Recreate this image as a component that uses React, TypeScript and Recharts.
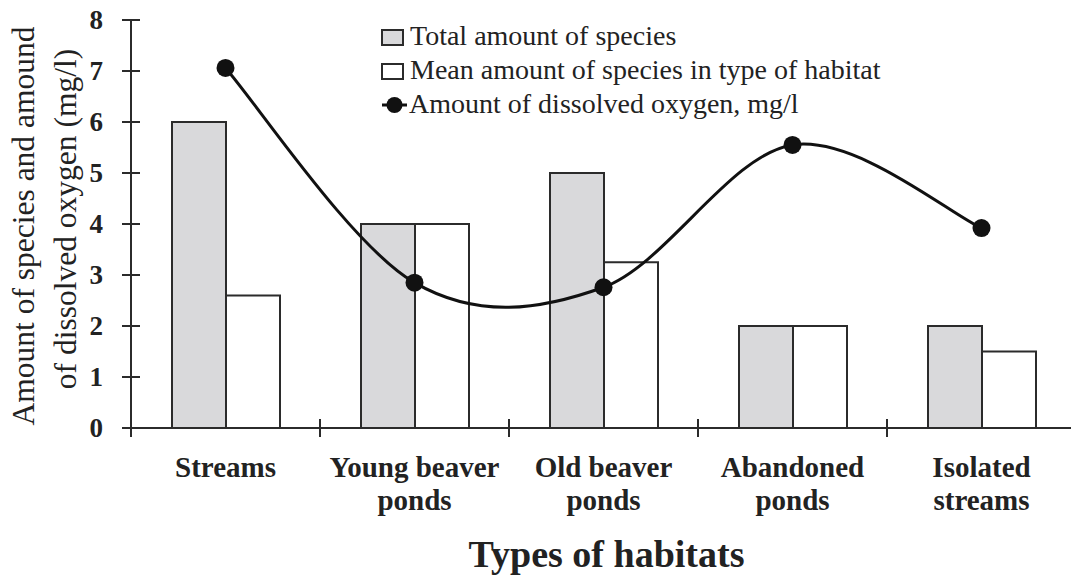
import { ComposedChart, Bar, Line, XAxis, YAxis } from "recharts";

const habitats = ["Streams", "Young beaver ponds", "Old beaver ponds", "Abandoned ponds", "Isolated streams"];
const habitatLines = [["Streams"], ["Young beaver", "ponds"], ["Old beaver", "ponds"], ["Abandoned", "ponds"], ["Isolated", "streams"]];
const totalSpecies = [6, 4, 5, 2, 2];
const meanSpecies = [2.6, 4, 3.25, 2, 1.5];
const dissolvedOxygen = [7.06, 2.85, 2.76, 5.55, 3.92];
const yTicks = [0, 1, 2, 3, 4, 5, 6, 7, 8];

const data = habitats.map((habitat, i) => ({
  habitat,
  total: totalSpecies[i],
  mean: meanSpecies[i],
  oxygen: dissolvedOxygen[i],
}));

const FONT = "'Liberation Serif', 'Times New Roman', serif";
const INK = "#2b2b2b";

// Catmull-Rom style smoothing, close to the spreadsheet "smoothed line"
const smoothCurve = (context: any) => {
  let pts: number[][] = [];
  return {
    areaStart() {},
    areaEnd() {},
    lineStart() {
      pts = [];
    },
    point(x: number, y: number) {
      pts.push([+x, +y]);
    },
    lineEnd() {
      if (!pts.length) return;
      context.moveTo(pts[0][0], pts[0][1]);
      for (let i = 0; i < pts.length - 1; i++) {
        const p0 = pts[i - 1] ?? pts[i];
        const p1 = pts[i];
        const p2 = pts[i + 1];
        const p3 = pts[i + 2] ?? p2;
        context.bezierCurveTo(
          p1[0] + (p2[0] - p0[0]) / 6,
          p1[1] + (p2[1] - p0[1]) / 6,
          p2[0] - (p3[0] - p1[0]) / 6,
          p2[1] - (p3[1] - p1[1]) / 6,
          p2[0],
          p2[1]
        );
      }
    },
  };
};

const YTick = ({ x, y, payload }: any) => (
  <g>
    <line x1={x - 9} x2={x + 9} y1={y} y2={y} stroke={INK} strokeWidth={2} />
    <text x={x - 28} y={y + 9} textAnchor="end" fontFamily={FONT} fontWeight="bold" fontSize={27} fill="#222">
      {payload.value}
    </text>
  </g>
);

const XTick = ({ x, y, payload, index }: any) => {
  const half = payload?.offset || 94.5;
  const lines = habitatLines[index] ?? [payload.value];
  return (
    <g>
      <line x1={x - half} x2={x - half} y1={y - 9} y2={y + 9} stroke={INK} strokeWidth={2} />
      {index === habitats.length - 1 && (
        <line x1={x + half} x2={x + half} y1={y - 9} y2={y + 9} stroke={INK} strokeWidth={2} />
      )}
      {lines.map((t: string, i: number) => (
        <text key={t} x={x} y={y + 49 + i * 33} textAnchor="middle" fontFamily={FONT} fontWeight="bold" fontSize={29} fill="#222">
          {t}
        </text>
      ))}
    </g>
  );
};

const YTitle = ({ viewBox }: any) => {
  const cy = (viewBox?.y ?? 20) + (viewBox?.height ?? 408) / 2;
  return (
    <text transform="rotate(-90)" textAnchor="middle" fontFamily={FONT} fontSize={31.5} fill="#222">
      <tspan x={-cy - 2} y={34}>Amount of species and amound</tspan>
      <tspan x={-cy + 5} y={76}>of dissolved oxygen (mg/l)</tspan>
    </text>
  );
};

const XTitle = ({ viewBox }: any) => {
  const cx = (viewBox?.x ?? 131) + (viewBox?.width ?? 945) / 2 + 3;
  const by = (viewBox?.y ?? 428) + 139;
  return (
    <text x={cx} y={by} textAnchor="middle" fontFamily={FONT} fontWeight="bold" fontSize={38} fill="#222">
      Types of habitats
    </text>
  );
};

const boxStyle = (fill: string) => ({
  display: "inline-block",
  width: 19,
  height: 13,
  border: `2px solid ${INK}`,
  background: fill,
  marginRight: 6,
  verticalAlign: "-1px",
});

const LegendBox = () => (
  <div
    style={{
      position: "absolute",
      left: 381,
      top: 19,
      fontFamily: FONT,
      fontSize: 28,
      lineHeight: "34px",
      color: "#222",
      whiteSpace: "nowrap",
    }}
  >
    <div>
      <span style={boxStyle("#d9d9db")} />
      Total amount of species
    </div>
    <div>
      <span style={boxStyle("#ffffff")} />
      Mean amount of species in type of habitat
    </div>
    <div>
      <svg width={25} height={18} style={{ verticalAlign: "-1px", marginRight: 2, marginLeft: 1 }}>
        <line x1={0} x2={25} y1={9} y2={9} stroke="#111" strokeWidth={3} />
        <circle cx={12.5} cy={9} r={8} fill="#111" />
      </svg>
      Amount of dissolved oxygen, mg/l
    </div>
  </div>
);

export default function App() {
  return (
    <div style={{ position: "absolute", left: 0, top: 0, width: 1071, height: 576, overflow: "hidden", background: "#fff" }}>
      <ComposedChart width={1080} height={576} data={data} margin={{ top: 20, right: 4, bottom: 0, left: 0 }} barGap={0}>
        <XAxis
          dataKey="habitat"
          height={148}
          interval={0}
          tickSize={0}
          tickMargin={0}
          tickLine={false}
          axisLine={{ stroke: INK, strokeWidth: 2 }}
          tick={<XTick />}
          label={{ content: XTitle as any }}
        />
        <YAxis
          width={131}
          domain={[0, 8]}
          ticks={yTicks}
          interval={0}
          tickSize={0}
          tickMargin={0}
          tickLine={false}
          axisLine={{ stroke: INK, strokeWidth: 2 }}
          tick={<YTick />}
          label={{ content: YTitle as any }}
        />
        <Bar dataKey="total" barSize={54} fill="#d9d9db" stroke={INK} strokeWidth={2} isAnimationActive={false} />
        <Bar dataKey="mean" barSize={54} fill="#ffffff" stroke={INK} strokeWidth={2} isAnimationActive={false} />
        <Line
          dataKey="oxygen"
          type={smoothCurve as any}
          stroke="#111"
          strokeWidth={3}
          dot={{ r: 9, fill: "#111", stroke: "#111", strokeWidth: 0 }}
          activeDot={false}
          isAnimationActive={false}
        />
      </ComposedChart>
      <LegendBox />
    </div>
  );
}
